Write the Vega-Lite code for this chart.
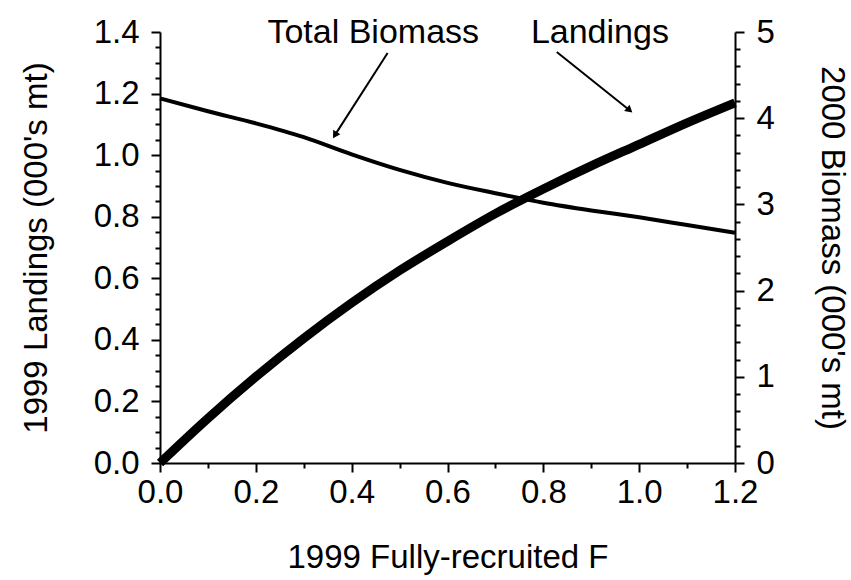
{
  "$schema": "https://vega.github.io/schema/vega-lite/v6.json",
  "width": 575,
  "height": 431,
  "autosize": "none",
  "padding": {"left": 160, "top": 32, "right": 116, "bottom": 117},
  "background": "white",
  "config": {
    "view": {"stroke": null},
    "font": "Liberation Sans",
    "axis": {
      "domainColor": "black", "domainWidth": 2, "tickColor": "black", "tickWidth": 2,
      "labelColor": "black", "titleColor": "black", "labelFont": "Liberation Sans",
      "titleFont": "Liberation Sans", "labelFontSize": 33, "titleFontSize": 33,
      "titleFontWeight": "normal", "grid": false, "labelFlush": false, "labelOverlap": false
    }
  },
  "datasets": {
    "curve": [
      {"F": 0.0, "landings": 0.0, "biomass": 4.23},
      {"F": 0.1, "landings": 0.145, "biomass": 4.08},
      {"F": 0.2, "landings": 0.28, "biomass": 3.94},
      {"F": 0.3, "landings": 0.405, "biomass": 3.78},
      {"F": 0.4, "landings": 0.52, "biomass": 3.58},
      {"F": 0.5, "landings": 0.625, "biomass": 3.40},
      {"F": 0.6, "landings": 0.72, "biomass": 3.25},
      {"F": 0.7, "landings": 0.81, "biomass": 3.13},
      {"F": 0.8, "landings": 0.89, "biomass": 3.02},
      {"F": 0.9, "landings": 0.965, "biomass": 2.93},
      {"F": 1.0, "landings": 1.035, "biomass": 2.85},
      {"F": 1.1, "landings": 1.105, "biomass": 2.76},
      {"F": 1.2, "landings": 1.17, "biomass": 2.67}
    ],
    "labels": [
      {"text": "Total Biomass", "F": 0.445, "L": 1.364},
      {"text": "Landings", "F": 0.918, "L": 1.364}
    ],
    "arrows": [
      {"F": 0.475, "L": 1.332, "F2": 0.365, "L2": 1.065, "angle": 211},
      {"F": 0.828, "L": 1.335, "F2": 0.98, "L2": 1.146, "angle": 131}
    ]
  },
  "layer": [
    {
      "data": {"name": "curve"},
      "mark": {"type": "line", "color": "black", "strokeWidth": 4, "clip": false, "interpolate": "monotone"},
      "encoding": {
        "x": {"field": "F", "type": "quantitative", "scale": {"domain": [0, 1.2], "nice": false},
          "axis": {"title": "1999 Fully-recruited F", "values": [0,0.05,0.1,0.15,0.2,0.25,0.3,0.35,0.4,0.45,0.5,0.55,0.6,0.65,0.7,0.75,0.8,0.85,0.9,0.95,1.0,1.05,1.1,1.15,1.2],
            "labelExpr": "abs(datum.value*5 - round(datum.value*5)) < 0.001 ? format(datum.value, '.1f') : ''",
            "tickSize": {"condition": {"test": "abs(datum.value*5 - round(datum.value*5)) < 0.001", "value": 9}, "value": 5},
            "labelPadding": 4, "titlePadding": 32}},
        "y": {"field": "biomass", "type": "quantitative", "scale": {"domain": [0, 5], "nice": false},
          "axis": {"orient": "right", "title": "2000 Biomass (000's mt)",
            "values": [0,0.2,0.4,0.6,0.8,1,1.2,1.4,1.6,1.8,2,2.2,2.4,2.6,2.8,3,3.2,3.4,3.6,3.8,4,4.2,4.4,4.6,4.8,5],
            "labelExpr": "abs(datum.value - round(datum.value)) < 0.001 ? format(datum.value, 'd') : ''",
            "tickSize": {"condition": {"test": "abs(datum.value - round(datum.value)) < 0.001", "value": 9}, "value": 5},
            "labelPadding": 12, "titlePadding": 40}}
      }
    },
    {
      "data": {"name": "curve"},
      "mark": {"type": "line", "color": "black", "strokeWidth": 9, "clip": false, "interpolate": "monotone"},
      "encoding": {
        "x": {"field": "F", "type": "quantitative", "scale": {"domain": [0, 1.2], "nice": false}},
        "y": {"field": "landings", "type": "quantitative", "scale": {"domain": [0, 1.4], "nice": false},
          "axis": {"orient": "left", "title": "1999 Landings (000's mt)",
            "values": [0,0.05,0.1,0.15,0.2,0.25,0.3,0.35,0.4,0.45,0.5,0.55,0.6,0.65,0.7,0.75,0.8,0.85,0.9,0.95,1.0,1.05,1.1,1.15,1.2,1.25,1.3,1.35,1.4],
            "labelExpr": "abs(datum.value*5 - round(datum.value*5)) < 0.001 ? format(datum.value, '.1f') : ''",
            "tickSize": {"condition": {"test": "abs(datum.value*5 - round(datum.value*5)) < 0.001", "value": 9}, "value": 5},
            "labelPadding": 12, "titlePadding": 40}}
      }
    },
    {
      "data": {"name": "labels"},
      "mark": {"type": "text", "fontSize": 34, "color": "black", "baseline": "alphabetic", "align": "center"},
      "encoding": {
        "x": {"field": "F", "type": "quantitative", "scale": {"domain": [0, 1.2], "nice": false}},
        "y": {"field": "L", "type": "quantitative", "scale": {"domain": [0, 1.4], "nice": false}, "axis": null},
        "text": {"field": "text"}
      }
    },
    {
      "data": {"name": "arrows"},
      "mark": {"type": "rule", "color": "black", "strokeWidth": 2},
      "encoding": {
        "x": {"field": "F", "type": "quantitative", "scale": {"domain": [0, 1.2], "nice": false}},
        "y": {"field": "L", "type": "quantitative", "scale": {"domain": [0, 1.4], "nice": false}, "axis": null},
        "x2": {"field": "F2"},
        "y2": {"field": "L2"}
      }
    },
    {
      "data": {"name": "arrows"},
      "mark": {"type": "point", "shape": "triangle-up", "filled": true, "color": "black", "size": 70, "opacity": 1},
      "encoding": {
        "x": {"field": "F2", "type": "quantitative", "scale": {"domain": [0, 1.2], "nice": false}},
        "y": {"field": "L2", "type": "quantitative", "scale": {"domain": [0, 1.4], "nice": false}, "axis": null},
        "angle": {"field": "angle", "type": "quantitative", "scale": null}
      }
    }
  ],
  "resolve": {"scale": {"y": "independent"}, "axis": {"y": "independent"}}
}
